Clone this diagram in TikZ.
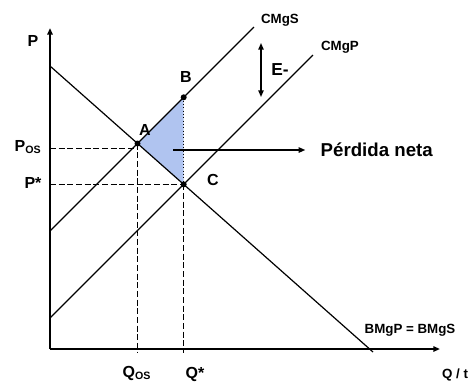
\documentclass[tikz,border=0pt]{standalone}
\usepackage{fontspec}
\setmainfont{Liberation Sans}
\usetikzlibrary{arrows.meta}
\begin{document}
\begin{tikzpicture}[x=0.75pt, y=-0.75pt, >={Triangle[length=5pt, width=4pt]},
        axis/.style={line width=1.4pt},
        curve/.style={line width=0.9pt},
        guide/.style={line width=0.8pt, dash pattern=on 4.5pt off 2pt},
        lbl/.style={font=\bfseries\fontsize{12}{14}\selectfont},
        tag/.style={font=\bfseries\fontsize{10}{12}\selectfont},
        dot/.style={circle, fill, inner sep=0pt, minimum size=4.5pt}]
        \useasboundingbox (0,0) rectangle (475,383);

        % Axes
        \coordinate (O) at (50,349);
        \coordinate (ytip) at (50,28);
        \coordinate (xtip) at (440,349);
        \draw[->, axis] (O) -- (ytip);
        \draw[->, axis] (O) -- (xtip);

        % Curves
        \coordinate (dtop) at (50,66);
        \coordinate (dbot) at (373,352);
        \coordinate (sbot) at (50,231);
        \coordinate (stop) at (254,27);
        \coordinate (pbot) at (50,318);
        \coordinate (ptop) at (313,55);

        % Points
        \coordinate (A) at (137.5,143.5);
        \coordinate (B) at (183.7,97.3);
        \coordinate (C) at (183.7,184.4);
        \coordinate (pos) at (50,148);
        \coordinate (pstar) at (50,184.4);
        \coordinate (qos) at (137.5,353);
        \coordinate (qstar) at (183.7,353);

        % Deadweight loss
        \fill[fill={rgb,255:red,176;green,196;blue,240}] (A) -- (B) -- (C) -- cycle;
        \draw[line width=0.5pt, dotted] (B) -- (C);

        \draw[curve] (dtop) -- (dbot);
        \draw[curve] (sbot) -- (stop);
        \draw[curve] (pbot) -- (ptop);

        % Guides
        \draw[guide, line width=0.7pt] (pos) -- (A |- pos);
        \draw[guide, line width=0.7pt] (pstar) -- (C);
        \draw[guide, line width=0.6pt] (A) -- (qos);
        \draw[guide, line width=1.1pt] (C) -- (qstar);

        \node[dot] (dA) at (A) {};
        \node[dot] (dB) at (B) {};
        \node[dot] (dC) at (C) {};

        % Labels
        \node[lbl] (lP) at (33,41) {P};
        \node[lbl] (lPos) at (28,147) {P\textsubscript{OS}};
        \node[lbl] (lPstar) at (33,183) {P*};
        \node[lbl] (lA) at (145,130) {A};
        \node[lbl] (lB) at (186,77) {B};
        \node[lbl] (lC) at (213,180) {C};
        \node[tag] (lCMgS) at (280,20) {CMgS};
        \node[tag] (lCMgP) at (340,47) {CMgP};
        \node[tag] (lBMg) at (410,330) {BMgP = BMgS};
        \node[tag] (lQt) at (455,375) {Q / t};
        \node[lbl] (lQos) at (137,373) {Q\textsubscript{OS}};
        \node[lbl] (lQstar) at (195,374) {Q*};

        % Externality
        \coordinate (etop) at (261,43);
        \coordinate (ebot) at (261,97);
        \draw[<->, line width=1.1pt] (etop) -- (ebot);
        \node[font=\bfseries\fontsize{13}{15}\selectfont] (lE) at (280,70) {E-};

        % Net loss
        \coordinate (pn) at (173,150);
        \node[font=\bfseries\fontsize{14}{16}\selectfont, anchor=west] (loss) at (316,150) {Pérdida neta};
        \draw[->, line width=1.1pt, shorten >=8pt] (pn) -- (loss);
    \end{tikzpicture}
\end{document}
